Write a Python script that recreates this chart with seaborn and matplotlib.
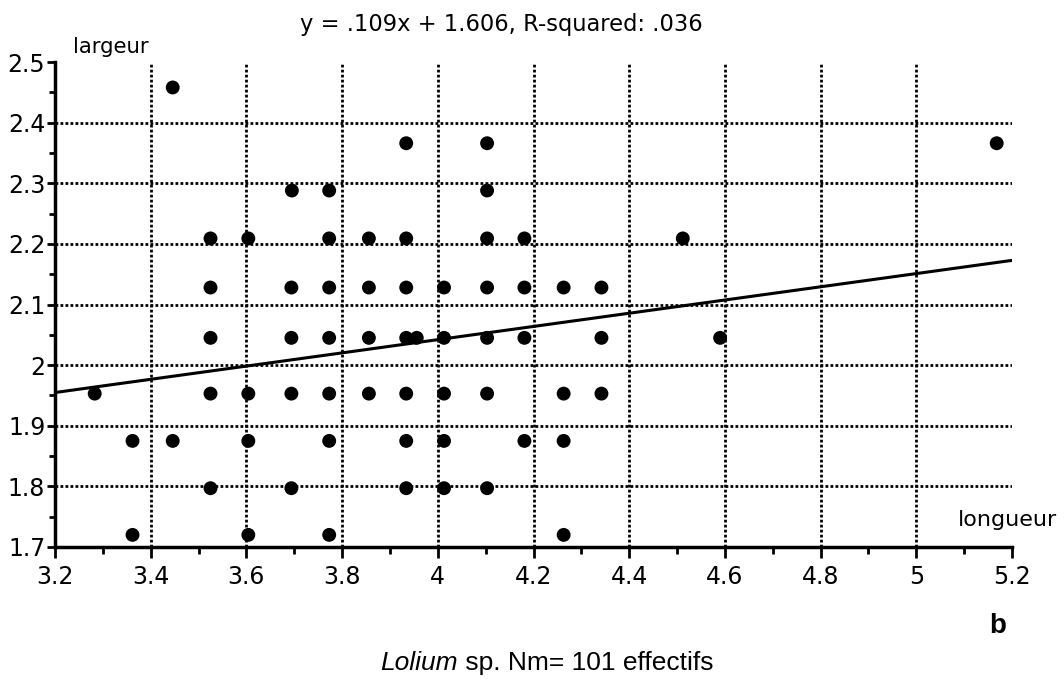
import numpy as np
import pandas as pd
import matplotlib
matplotlib.use("Agg")
import matplotlib.pyplot as plt
import seaborn as sns
from matplotlib.ticker import MultipleLocator, FuncFormatter

# ---- data (longueur, largeur) ----
longueur = [
    3.446,                                                                 # 2.458
    3.934, 4.103, 5.168,                                                   # 2.366
    3.695, 3.773, 4.103,                                                   # 2.288
    3.525, 3.604, 3.773, 3.856, 3.934, 4.103, 4.181, 4.512,                # 2.209
    3.525, 3.694, 3.773, 3.856, 3.934, 4.013, 4.103, 4.181, 4.263, 4.342,  # 2.128
    3.525, 3.694, 3.773, 3.856, 3.934, 3.956, 4.013, 4.103, 4.181, 4.342, 4.590,  # 2.045
    3.283, 3.525, 3.604, 3.694, 3.773, 3.856, 3.934, 4.013, 4.103, 4.263, 4.342,  # 1.953
    3.362, 3.446, 3.604, 3.773, 3.934, 4.013, 4.181, 4.263,                # 1.875
    3.525, 3.694, 3.934, 4.013, 4.103,                                     # 1.797
    3.362, 3.604, 3.773, 4.263,                                            # 1.720
]
largeur = (
    [2.458] * 1 + [2.366] * 3 + [2.288] * 3 + [2.209] * 8 + [2.128] * 10
    + [2.045] * 11 + [1.953] * 11 + [1.875] * 8 + [1.797] * 5 + [1.720] * 4
)

slope = 0.109
intercept = 1.606
x_limits = [3.2, 5.2]
y_limits = [1.7, 2.5]
x_grid = [3.4, 3.6, 3.8, 4.0, 4.2, 4.4, 4.6, 4.8, 5.0]
y_grid = [1.8, 1.9, 2.0, 2.1, 2.2, 2.3, 2.4]

title_text = "y = .109x + 1.606, R-squared: .036"
caption_italic = "Lolium"
caption_rest = " sp. Nm= 101 effectifs"
panel_letter = "b"

df = pd.DataFrame({"longueur": longueur, "largeur": largeur})

sns.set_style("white")
plt.rcParams["font.family"] = ["DejaVu Sans"]

W, H = 1064, 681
fig = plt.figure(figsize=(W / 100, H / 100), dpi=100)
ax = fig.add_axes([55 / W, 1 - 547 / H, (1012 - 55) / W, (547 - 62) / H])

# grid lines (dotted, black)
for gx in x_grid:
    ax.axvline(gx, color="black", linestyle=(0, (1, 0.8)), linewidth=2, zorder=1)
for gy in y_grid:
    ax.axhline(gy, color="black", linestyle=(0, (1, 0.8)), linewidth=2, zorder=1)

sns.scatterplot(data=df, x="longueur", y="largeur", ax=ax, s=100, color="black",
                edgecolor="none", linewidth=0, zorder=3, legend=False)

xl = np.array(x_limits)
sns.lineplot(x=xl, y=slope * xl + intercept, ax=ax, color="black", linewidth=2.2, zorder=4)

ax.set_xlim(*x_limits)
ax.set_ylim(*y_limits)
ax.set_xlabel("")
ax.set_ylabel("")

ax.xaxis.set_major_locator(MultipleLocator(0.2))
ax.xaxis.set_minor_locator(MultipleLocator(0.1))
ax.yaxis.set_major_locator(MultipleLocator(0.1))
ax.yaxis.set_minor_locator(MultipleLocator(0.05))
fmt = FuncFormatter(lambda v, p: f"{round(v, 3):g}")
ax.xaxis.set_major_formatter(fmt)
ax.yaxis.set_major_formatter(fmt)

ax.tick_params(axis="x", which="major", direction="out", length=8, width=2,
               labelsize=17, pad=5, color="black", labelcolor="black")
ax.tick_params(axis="x", which="minor", direction="out", length=5, width=2, color="black")
ax.tick_params(axis="y", which="major", direction="out", length=6, width=2,
               labelsize=17, pad=1, color="black", labelcolor="black")
ax.tick_params(axis="y", which="minor", direction="out", length=4, width=2, color="black")
ax.tick_params(bottom=True, left=True, which="both")

for side in ["top", "right"]:
    ax.spines[side].set_visible(False)
for side in ["left", "bottom"]:
    ax.spines[side].set_linewidth(2.5)
    ax.spines[side].set_color("black")
ax.grid(False)

# texts
fig.text(501 / W, 1 - 25 / H, title_text, ha="center", va="center", fontsize=16.3, color="black")
fig.text(73 / W, 1 - 47 / H, "largeur", ha="left", va="center", fontsize=15.3, color="black")
fig.text(1057 / W, 1 - 520 / H, "longueur", ha="right", va="center", fontsize=16, color="black")
fig.text(998 / W, 1 - 626 / H, panel_letter, ha="center", va="center", fontsize=20,
         fontweight="bold", family=["Liberation Sans", "DejaVu Sans"], color="black")

# caption with italic genus name, centred as a whole
cap_y = 1 - 663 / H
t1 = fig.text(0, cap_y, caption_italic, ha="left", va="center", fontsize=19,
              style="italic", family=["Liberation Sans", "DejaVu Sans"], color="black")
t2 = fig.text(0, cap_y, caption_rest, ha="left", va="center", fontsize=19,
              family=["Liberation Sans", "DejaVu Sans"], color="black")
fig.canvas.draw()
r = fig.canvas.get_renderer()
w1 = t1.get_window_extent(r).width
w2 = t2.get_window_extent(r).width
x0 = 547 - (w1 + w2) / 2
t1.set_x(x0 / W)
t2.set_x((x0 + w1) / W)

fig.savefig("out.png", dpi=100, facecolor="white")
